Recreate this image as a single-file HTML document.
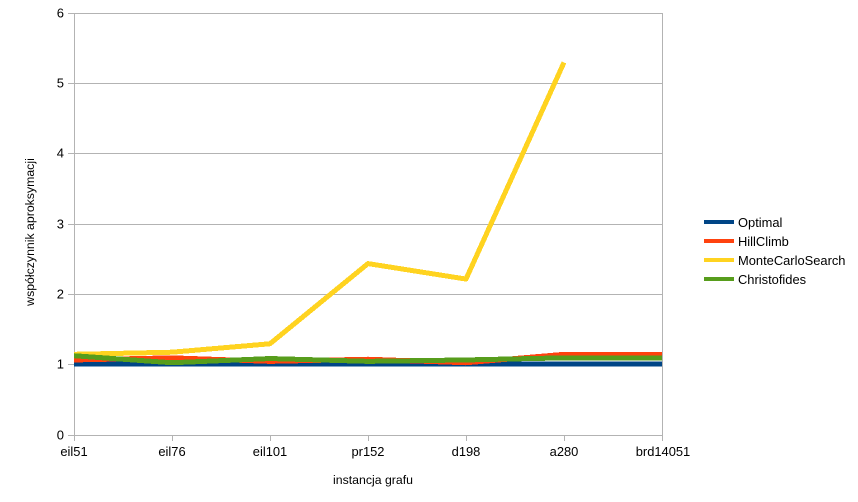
<!DOCTYPE html>
<html lang="pl">
<head>
<meta charset="utf-8">
<title>Współczynnik aproksymacji</title>
<style>
html,body{margin:0;padding:0;background:#fff;}
svg{display:block;font-family:"Liberation Sans",sans-serif;fill:#000;}
</style>
</head>
<body>
<svg id="chart" width="858" height="502" viewBox="0 0 858 502" xmlns="http://www.w3.org/2000/svg">
  <text transform="translate(34 232) rotate(-90)" text-anchor="middle" font-size="12.3">współczynnik aproksymacji</text>
  <text x="373" y="484" text-anchor="middle" font-size="12.3">instancja grafu</text>
</svg>
<script>
const categories = ['eil51','eil76','eil101','pr152','d198','a280','brd14051'];
const yTickLabels = [0,1,2,3,4,5,6];
const seriesNames = ['Optimal','HillClimb','MonteCarloSearch','Christofides'];
const optimalValues = [1,1,1,1,1,1,1];
const hillClimbValues = [1.06,1.09,1.04,1.07,1.02,1.14,1.14];
const monteCarloValues = [1.14,1.17,1.29,2.43,2.21,5.29];
const christofidesValues = [1.12,1.02,1.08,1.04,1.06,1.09,1.09];

const svg = document.getElementById('chart');
const NS = 'http://www.w3.org/2000/svg';
const plotLeft = 74, plotRight = 662, plotTop = 13, plotBottom = 435;
const yMax = 6;
const seriesColors = ['#004586','#ff420e','#ffd320','#579d1c'];
const seriesValues = [optimalValues, hillClimbValues, monteCarloValues, christofidesValues];

function xScale(i){ return plotLeft + i * (plotRight - plotLeft) / (categories.length - 1); }
function yScale(v){ return plotBottom - v * (plotBottom - plotTop) / yMax; }
function make(tag, attrs){
  const el = document.createElementNS(NS, tag);
  for (const k in attrs) el.setAttribute(k, attrs[k]);
  svg.appendChild(el);
  return el;
}

yTickLabels.forEach(function(v){
  const y = Math.floor(yScale(v)) + 0.5;
  const grid = make('line', {x1: plotLeft - 6, x2: plotRight, y1: y, y2: y, stroke: '#b3b3b3', 'stroke-width': 1});
  
  
  const label = make('text', {x: 64, y: y + 4, 'text-anchor': 'end', 'font-size': 13});
  label.textContent = v;
  
  
});

const yAxis = make('line', {x1: plotLeft + 0.5, x2: plotLeft + 0.5, y1: plotTop, y2: plotBottom + 6, stroke: '#b3b3b3', 'stroke-width': 1});


const rightEdge = make('line', {x1: plotRight + 0.5, x2: plotRight + 0.5, y1: plotTop, y2: plotBottom + 6, stroke: '#b3b3b3', 'stroke-width': 1});



categories.forEach(function(c, i){
  const x = Math.round(xScale(i)) + 0.5;
  const tick = make('line', {x1: x, x2: x, y1: plotBottom, y2: plotBottom + 6, stroke: '#b3b3b3', 'stroke-width': 1});
  
  
  const label = make('text', {x: xScale(i) + (i === 6 ? 1 : 0), y: 456, 'text-anchor': 'middle', 'font-size': 12.9});
  label.textContent = c;
  
  
});

seriesValues.forEach(function(vals, s){
  const pts = vals.map(function(v, i){ return xScale(i) + ',' + (yScale(v) - 0.5); }).join(' ');
  const line = make('polyline', {points: pts, fill: 'none', stroke: seriesColors[s], 'stroke-width': 5, 'stroke-linejoin': 'round', 'shape-rendering': 'crispEdges'});
  
  
});

seriesNames.forEach(function(n, s){
  const y = Math.round(222.2 + s * 18.8);
  const key = make('rect', {x: 704, y: y - 2, width: 30, height: 4, fill: seriesColors[s]});
  
  
  const label = make('text', {x: 738, y: y + 5, 'font-size': 12.9});
  label.textContent = n;
  
  
});
</script>
</body>
</html>
